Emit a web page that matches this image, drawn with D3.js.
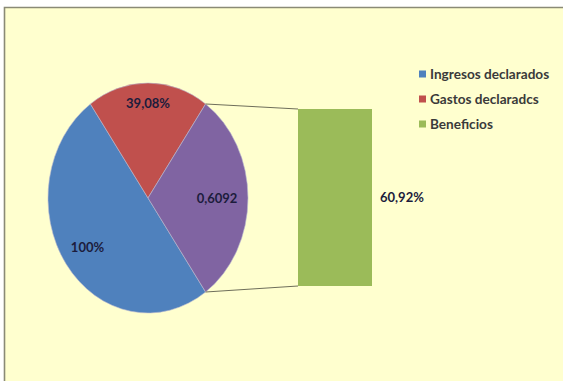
<!DOCTYPE html>
<html>
<head>
<meta charset="utf-8">
<script src="https://cdn.jsdelivr.net/npm/d3@7"></script>
<style>
  html, body { margin: 0; padding: 0; background: #ffffff; }
  svg { display: block; }
  text { font-family: Lato, "Open Sans", sans-serif; }
</style>
</head>
<body>
<svg id="chart" width="563" height="381"></svg>
<script>
// Ingresos / gastos / beneficios, shown as a pie with the "other" slice split out into a bar
const categories = ["Ingresos declarados", "Gastos declaradcs", "Beneficios"];
const pieValues = [1, 0.3908, 0.6092];          // Ingresos, Gastos, Otro (= Beneficios)
const pieKeys = ["ingresos", "gastos", "otro"];
const barValues = [0.6092];                       // Beneficios
const colors = ["#4f81bd", "#c0504d", "#8064a2", "#9bbb59"];

const W = 563, H = 381;
const svg = d3.select("#chart");

const loc = d3.formatLocale({ decimal: ",", thousands: ".", grouping: [3], currency: ["", " €"] });
const pct = loc.format(".2~%");
const raw = loc.format(".4~f");

// background and frame
svg.append("rect").attr("x", 4).attr("y", 7).attr("width", W - 4).attr("height", H - 7)
  .attr("fill", "#ffffcf");
svg.append("path")
  .attr("d", `M4.5,${H} V7.5 H${W}`)
  .attr("fill", "none").attr("stroke", "#8a8a76").attr("stroke-width", 1.6);

// pie (drawn round, then stretched into an ellipse)
const cx = 148, cy = 198, rx = 100, ry = 115;
const total = d3.sum(pieValues);
const otherAngle = 2 * Math.PI * pieValues[2] / total;
const start = Math.PI / 2 + otherAngle / 2;        // "otro" slice centred on the bar side

const pie = d3.pie().sort(null).startAngle(start).endAngle(start + 2 * Math.PI);
const arcs = pie(pieValues);
const arc = d3.arc().innerRadius(0).outerRadius(rx);

const pieG = svg.append("g")
  .attr("transform", `translate(${cx},${cy}) scale(1,${ry / rx})`);
pieG.selectAll("path").data(arcs).join("path")
  .attr("d", arc)
  .attr("fill", (d, i) => colors[i])
  .attr("stroke", "#b8b8d0").attr("stroke-width", 0.6)
  .attr("vector-effect", "non-scaling-stroke");

// point on the ellipse at a pie angle
const onEllipse = a => [cx + rx * Math.sin(a), cy - ry * Math.cos(a)];

// bar for the split-out slice
const barX0 = 298, barX1 = 372;
const y = d3.scaleLinear().domain([0, d3.sum(barValues)]).range([286, 109]);
const stack = barValues.map((v, i) => ({ v, y0: d3.sum(barValues.slice(0, i)), y1: d3.sum(barValues.slice(0, i + 1)) }));
svg.selectAll("rect.bar").data(stack).join("rect")
  .attr("class", "bar")
  .attr("x", barX0).attr("width", barX1 - barX0)
  .attr("y", d => y(d.y1)).attr("height", d => y(d.y0) - y(d.y1))
  .attr("fill", colors[3]);

// connector lines from the "otro" slice to the bar
const oArc = arcs[2];
const pTop = onEllipse(oArc.startAngle), pBot = onEllipse(oArc.endAngle);
const yTop = y(d3.sum(barValues)), yBot = y(0);
svg.append("line").attr("x1", pTop[0]).attr("y1", pTop[1]).attr("x2", barX0).attr("y2", yTop)
  .attr("stroke", "#6e6e5a").attr("stroke-width", 1);
svg.append("line").attr("x1", pBot[0]).attr("y1", pBot[1]).attr("x2", barX0).attr("y2", yBot)
  .attr("stroke", "#6e6e5a").attr("stroke-width", 1);

// slice labels
const labelRadius = { ingresos: 0.74, gastos: 0.82, otro: 0.69 };
const pieLabels = [pct(pieValues[0]), pct(pieValues[1]), raw(pieValues[2])];
svg.selectAll("text.pl").data(arcs).join("text")
  .attr("class", "pl")
  .attr("x", (d, i) => {
    const a = (d.startAngle + d.endAngle) / 2;
    return cx + rx * labelRadius[pieKeys[i]] * Math.sin(a);
  })
  .attr("y", (d, i) => {
    const a = (d.startAngle + d.endAngle) / 2;
    return cy - ry * labelRadius[pieKeys[i]] * Math.cos(a);
  })
  .attr("text-anchor", "middle").attr("dy", "0.36em")
  .attr("font-size", 13).attr("font-weight", 700).attr("fill", "#1c1c3c")
  .text((d, i) => pieLabels[i]);

// bar label
svg.selectAll("text.bl").data(stack).join("text")
  .attr("class", "bl")
  .attr("x", barX1 + 8)
  .attr("y", d => (y(d.y0) + y(d.y1)) / 2)
  .attr("dy", "0.36em")
  .attr("font-size", 13).attr("font-weight", 700).attr("fill", "#1c1c3c")
  .text(d => pct(d.v));

// legend
const legendColors = [colors[0], colors[1], colors[3]];
const lg = svg.append("g").attr("transform", "translate(419,74)");
const item = lg.selectAll("g").data(categories).join("g")
  .attr("transform", (d, i) => `translate(0,${i * 25})`);
item.append("rect").attr("x", 0).attr("y", -3.5).attr("width", 7).attr("height", 7)
  .attr("fill", (d, i) => legendColors[i]);
item.append("text").attr("x", 11).attr("dy", "0.36em")
  .attr("font-size", 13.6).attr("font-weight", 700).attr("fill", "#3a3a3a")
  .text(d => d);
</script>
</body>
</html>
